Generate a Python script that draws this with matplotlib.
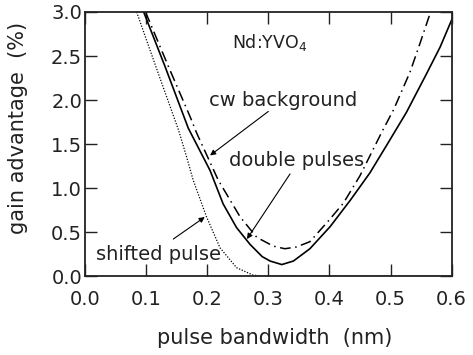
import matplotlib
matplotlib.use("Agg")
import matplotlib.pyplot as plt

plt.rcParams['font.family'] = ['DejaVu Sans']
plt.rcParams['mathtext.fontset'] = 'dejavusans'

# double pulses (solid)
x_double = [0.096, 0.131, 0.169, 0.2046, 0.226, 0.248, 0.270, 0.290, 0.303, 0.322,
            0.341, 0.368, 0.401, 0.434, 0.466, 0.494, 0.526, 0.559, 0.581, 0.600]
y_double = [3.00, 2.38, 1.68, 1.20, 0.82, 0.55, 0.36, 0.22, 0.17, 0.13,
            0.17, 0.31, 0.56, 0.86, 1.17, 1.49, 1.86, 2.30, 2.60, 2.91]

# cw background (dash-dot)
x_cw = [0.099, 0.139, 0.172, 0.183, 0.218, 0.254, 0.281, 0.308, 0.327, 0.346,
        0.368, 0.400, 0.423, 0.450, 0.486, 0.505, 0.532, 0.548, 0.565]
y_cw = [3.00, 2.34, 1.81, 1.62, 1.09, 0.67, 0.44, 0.34, 0.31, 0.33,
        0.39, 0.64, 0.83, 1.14, 1.64, 1.89, 2.32, 2.64, 2.99]

# shifted pulse (dotted)
x_shift = [0.0845, 0.120, 0.153, 0.166, 0.177, 0.199, 0.221, 0.248, 0.275, 0.290, 0.600]
y_shift = [3.00, 2.30, 1.66, 1.36, 1.09, 0.67, 0.32, 0.095, 0.01, 0.00, 0.00]

xticks = [0.0, 0.1, 0.2, 0.3, 0.4, 0.5, 0.6]
yticks = [0.0, 0.5, 1.0, 1.5, 2.0, 2.5, 3.0]

fig = plt.figure(figsize=(4.73, 3.55), dpi=100)
ax = fig.add_axes([0.1797, 0.2225, 0.7752, 0.7437])

ax.plot(x_double, y_double, color='black', lw=1.2, ls='-')
ax.plot(x_cw, y_cw, color='black', lw=1.1, ls=(0, (7, 3, 1, 3)))
ax.plot(x_shift, y_shift, color='black', lw=0.9, ls=(0, (1, 1.3)))

ax.set_xlim(0, 0.6)
ax.set_ylim(0, 3.0)
ax.set_xticks(xticks)
ax.set_yticks(yticks)
ax.set_xticklabels([f"{v:.1f}" for v in xticks])
ax.set_yticklabels([f"{v:.1f}" for v in yticks])
ax.tick_params(direction='in', length=8.5, width=1.0, top=True, right=True,
               labelsize=14, colors='#222222')
ax.tick_params(axis='x', pad=10)
ax.tick_params(axis='y', pad=2)
for s in ax.spines.values():
    s.set_linewidth(1.3)
    s.set_color('#222222')

ax.set_xlabel('pulse bandwidth  (nm)', fontsize=15, color='#222222')
ax.set_ylabel('gain advantage  (%)', fontsize=15, color='#222222')
ax.xaxis.set_label_coords(0.518, -0.236)
ax.xaxis.label.set_va('center')
ax.yaxis.set_label_coords(-0.183, 0.559)
ax.yaxis.label.set_va('center')

ax.text(0.302, 2.65, 'Nd:YVO$_4$', fontsize=12.5, ha='center', va='center', color='#222222')
ax.text(0.3246, 2.0, 'cw background', fontsize=14, ha='center', va='center', color='#222222')
ax.text(0.347, 1.31, 'double pulses', fontsize=14, ha='center', va='center', color='#222222')
ax.text(0.121, 0.24, 'shifted pulse', fontsize=14, ha='center', va='center', color='#222222')

arrow = dict(arrowstyle='-|>', color='black', lw=0.8, mutation_scale=8, shrinkA=0, shrinkB=0)
ax.annotate('', xy=(0.2046, 1.37), xytext=(0.300, 1.87), arrowprops=arrow)
ax.annotate('', xy=(0.265, 0.42), xytext=(0.3355, 1.16), arrowprops=arrow)
ax.annotate('', xy=(0.196, 0.67), xytext=(0.1445, 0.42), arrowprops=arrow)

fig.savefig('out.png', dpi=100)
